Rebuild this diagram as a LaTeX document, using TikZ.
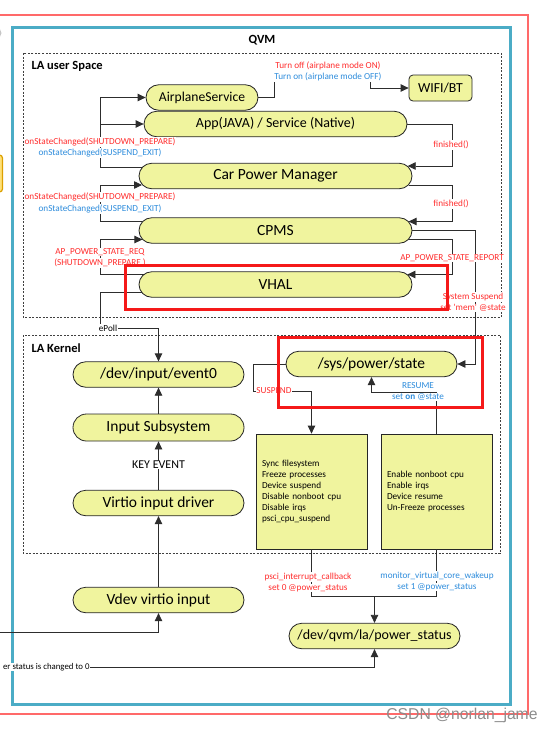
\documentclass[tikz,border=0pt]{standalone}
\usepackage{fontspec}
\setmainfont{Carlito}
\newfontfamily\wmfont{Liberation Sans}
\usetikzlibrary{calc,arrows.meta,shapes.misc}
\definecolor{nodeyellow}{RGB}{240,244,158}
\definecolor{lblred}{RGB}{255,45,45}
\definecolor{lblblue}{RGB}{45,140,220}
\definecolor{hired}{RGB}{245,25,25}
\definecolor{framered}{RGB}{255,105,105}
\definecolor{qvmteal}{RGB}{75,172,198}
\definecolor{linegray}{RGB}{45,45,45}
\definecolor{wmgray}{RGB}{140,140,140}
\begin{document}
\begin{tikzpicture}[x=1pt,y=-1pt,
  pill/.style={rounded rectangle, draw=black!85, line width=0.8pt, fill=nodeyellow, inner sep=0pt, minimum height=25.5, font=\fontsize{15.5}{18}\selectfont},
  boxr/.style={rectangle, draw=black!85, line width=0.8pt, fill=nodeyellow, minimum width=111, minimum height=115, text width=99, align=left, inner sep=0pt, font=\fontsize{9.2}{11}\selectfont},
  conn/.style={draw=linegray, line width=0.8pt},
  arr/.style={conn, -{Triangle[length=8pt,width=7.5pt]}},
  lbl/.style={fill=white, inner sep=0.6pt, font=\fontsize{9.2}{10.5}\selectfont},
  rlbl/.style={lbl, text=lblred},
  blbl/.style={lbl, text=lblblue},
  dashbox/.style={draw=black!75, line width=0.7pt, dash pattern=on 2pt off 1.5pt},
  hibox/.style={draw=hired, line width=3pt},
  titlelbl/.style={font=\bfseries\fontsize{12.5}{14}\selectfont}
]
\clip (0,0) rectangle (555,734);
\fill[white] (0,0) rectangle (555,734);

% frames
\draw[framered, line width=1.5pt] (-5,15) rectangle (528,714);
\fill[gray!45] (-4,33) circle (5.5);
\draw[draw={rgb,255:red,220;green,160;blue,0}, fill={rgb,255:red,255;green,225;blue,120}, line width=1.2pt, rounded corners=3] (-20,155) rectangle (2.5,192);
\draw[qvmteal, line width=3pt] (12,27) rectangle (510,704);
\node[titlelbl] (qvm) at (262,40) {QVM};
\draw[dashbox] (23,53) rectangle (501,317);
\draw[dashbox] (23,335) rectangle (500,553);
\node[titlelbl, anchor=west] (ulab) at (28,66) {LA user Space};
\node[titlelbl, anchor=west] (klab) at (28,348) {LA Kernel};

% nodes
\node[pill, minimum width=112, font=\fontsize{13.6}{16}\selectfont] (air) at (202,97.5) {AirplaneService};
\node[pill, minimum width=263, font=\fontsize{14}{16}\selectfont] (app) at (275.5,124) {App(JAVA) / Service (Native)};
\node[pill, minimum width=273] (cpm) at (275.5,176) {Car Power Manager};
\node[pill, minimum width=273] (cpms) at (275.5,230.5) {CPMS};
\node[pill, minimum width=273] (vhal) at (275.5,284.5) {VHAL};
\node[draw=black!85, line width=0.8pt, fill=nodeyellow, rounded corners=4, minimum width=63, minimum height=26, font=\fontsize{13.8}{16}\selectfont] (wifi) at (440.5,88) {WIFI/BT};
\node[pill, minimum width=171] (ev0) at (158.5,374.5) {/dev/input/event0};
\node[pill, minimum width=171, minimum height=27] (insub) at (158.5,427.5) {Input Subsystem};
\node[pill, minimum width=171] (vio) at (158.5,503) {Virtio input driver};
\node[pill, minimum width=171] (vdev) at (158.5,600) {Vdev virtio input};
\node[pill, minimum width=171] (sps) at (371.5,364) {/sys/power/state};
\node[pill, minimum width=171, font=\fontsize{14}{16}\selectfont] (pst) at (374.5,636) {/dev/qvm/la/power\_status};
\node[boxr] (susp) at (311.5,491.5) {Sync filesystem\\Freeze processes\\Device suspend\\Disable nonboot cpu\\Disable irqs\\psci\_cpu\_suspend};
\node[boxr] (resm) at (436.5,491.5) {Enable nonboot cpu\\Enable irqs\\Device resume\\Un-Freeze processes};
\node[lbl, anchor=east, inner sep=0.3pt, font=\fontsize{8.8}{10}\selectfont] (er) at (90,667) {er status is changed to 0};
\coordinate (leftin) at (0,632);
\coordinate (join) at (374.5,596);

% connectors
\draw[arr] ($(cpm.west)+(3.4,-9)$) -| (100,97.5) -- (air.west);
\draw[arr] (100,124) -- (app.west);
\draw[arr] ($(cpms.west)+(3.8,-9)$) -| (100,185) -- ($(cpm.west)+(3.4,9)$);
\draw[arr] (air.east) -| (274,79) -| (370,88) -- (wifi.west);
\draw[arr] (app.east) -| (452,166) -- ($(cpm.east)+(-4.7,-10)$);
\draw[arr] ($(cpm.east)+(-3.4,9)$) -| (452,221.5) -- ($(cpms.east)+(-3.8,-9)$);
\draw[arr] (cpms.east) -| (475,364) -- (sps.east);
\draw[arr] ($(cpms.east)+(-3.8,9)$) -| (452,274.5) -- ($(vhal.east)+(-5,-10)$);
\draw[arr] ($(vhal.west)+(5,-10)$) -| (100,239.5) -- ($(cpms.west)+(3.8,9)$);
\draw[arr] ($(vhal.west)+(2.9,8)$) -| (100,328) -| (ev0.north);
\draw[arr] (insub.north) -- (ev0.south);
\draw[arr] (vio.north) -- (insub.south);
\draw[arr] (vdev.north) -- (vio.south);
\draw[arr] (leftin) -| (vdev.south);
\draw[arr] (sps.west) -| (253,391) -| (susp.north);
\draw[arr] (resm.north) |- ($(sps.south)+(0,15)$) -- (sps.south);
\draw[conn] (susp.south) |- (join);
\draw[conn] (resm.south) |- (join);
\draw[arr] (join) -- (pst.north);
\draw[arr] (er.east) -| (pst.south);

% labels
\node[rlbl] at (328,66) {Turn off (airplane mode ON)};
\node[blbl] at (328,77) {Turn on (airplane mode OFF)};
\node[rlbl] at (451,145) {finished()};
\node[rlbl] at (451,204) {finished()};
\node[rlbl] at (100,142) {onStateChanged(SHUTDOWN\_PREPARE)};
\node[blbl] at (100,153) {onStateChanged(SUSPEND\_EXIT)};
\node[rlbl] at (100,197) {onStateChanged(SHUTDOWN\_PREPARE)};
\node[blbl] at (100,209) {onStateChanged(SUSPEND\_EXIT)};
\node[rlbl] at (100,252) {AP\_POWER\_STATE\_REQ};
\node[rlbl] at (100,263) {(SHUTDOWN\_PREPARE )};
\node[rlbl] at (452,258) {AP\_POWER\_STATE\_REPORT};
\node[rlbl] at (473,297) {System Suspend};
\node[rlbl] at (473,308) {set \textquotesingle mem\textquotesingle\ @state};
\node[lbl] at (108,328) {ePoll};
\node[lbl, font=\fontsize{12}{14}\selectfont] at (158.5,465) {KEY EVENT};
\node[rlbl] at (274,391) {SUSPEND};
\node[blbl] at (418,386) {RESUME};
\node[blbl] at (418,397) {set \textbf{on} @state};
\node[rlbl] at (308,577) {psci\_interrupt\_callback};
\node[rlbl] at (308,588) {set 0 @power\_status};
\node[blbl] at (437,576) {monitor\_virtual\_core\_wakeup};
\node[blbl] at (437,587) {set 1 @power\_status};

% highlights
\draw[hibox] (125,265) rectangle (447,309);
\draw[hibox] (278,337) rectangle (482,407);

\node[text=wmgray, font=\wmfont\fontsize{15.7}{18}\selectfont] at (462,715) {CSDN @norlan\_jame};
\end{tikzpicture}
\end{document}
